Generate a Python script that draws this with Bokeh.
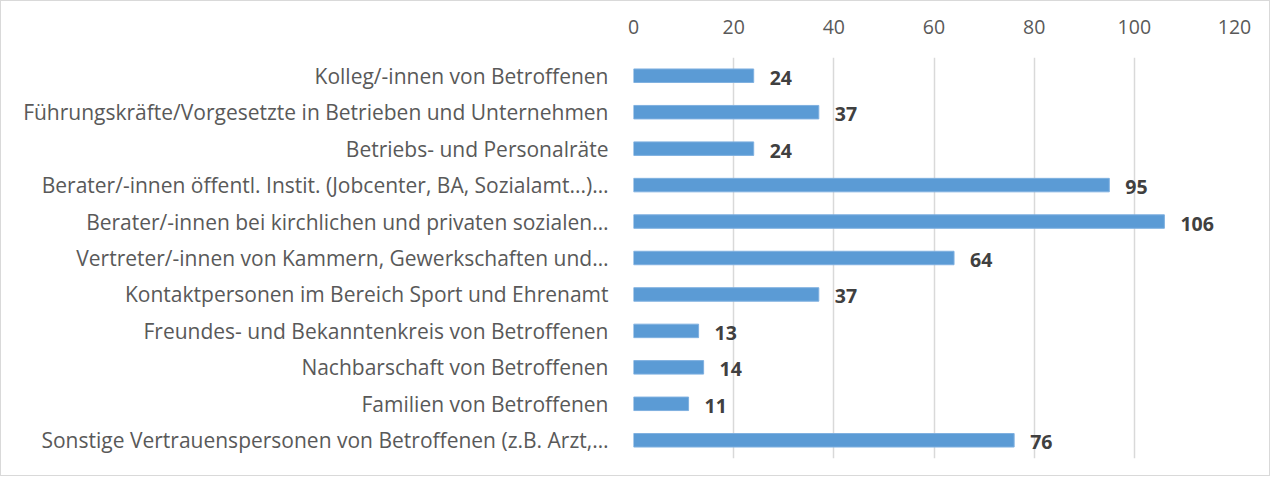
from bokeh.plotting import figure
from bokeh.models import ColumnDataSource, FactorRange, LinearAxis, Range1d, FixedTicker
from bokeh.core.properties import value
from bokeh.embed import file_html
from bokeh.resources import INLINE

categories = [
    "Kolleg/-innen von Betroffenen",
    "Führungskräfte/Vorgesetzte in Betrieben und Unternehmen",
    "Betriebs- und Personalräte",
    "Berater/-innen öffentl. Instit. (Jobcenter, BA, Sozialamt...)…",
    "Berater/-innen bei kirchlichen und privaten sozialen…",
    "Vertreter/-innen von Kammern, Gewerkschaften und…",
    "Kontaktpersonen im Bereich Sport und Ehrenamt",
    "Freundes- und Bekanntenkreis von Betroffenen",
    "Nachbarschaft von Betroffenen",
    "Familien von Betroffenen",
    "Sonstige Vertrauenspersonen von Betroffenen (z.B. Arzt,…",
]
values = [24, 37, 24, 95, 106, 64, 37, 13, 14, 11, 76]
ticks = [0, 20, 40, 60, 80, 100, 120]

FONT = "Open Sans"

src = ColumnDataSource(dict(cat=categories, val=values, lab=[str(v) for v in values]))

p = figure(
    width=1270, height=476, output_backend="svg", toolbar_location=None,
    y_range=FactorRange(factors=list(reversed(categories)), range_padding=0),
    x_range=Range1d(0, 120),
    x_axis_location=None,
    min_border_left=632, min_border_right=37, min_border_top=56, min_border_bottom=19,
)
p.styles = {"border": "1px solid #d9d9d9"}
p.outline_line_color = None
p.background_fill_color = "white"
p.border_fill_color = "white"

p.hbar(y="cat", right="val", left=0, height=0.37, source=src,
       fill_color="#5b9bd5", line_color="#7fb0e0", line_width=1)

p.text(x="val", y="cat", text="lab", source=src, x_offset=16, y_offset=2,
       text_font=value(FONT), text_font_style="bold", text_font_size="19.5px",
       text_color="#404040", text_baseline="middle", text_align="left")

top = LinearAxis(ticker=FixedTicker(ticks=ticks))
top.axis_line_color = None
top.major_tick_line_color = None
top.minor_tick_line_color = None
top.major_label_text_font = FONT
top.major_label_text_font_size = "19.5px"
top.major_label_text_color = "#595959"
top.major_label_standoff = 18
p.add_layout(top, "above")

p.xgrid.ticker = FixedTicker(ticks=ticks)
p.xgrid.grid_line_color = "#d9d9d9"
p.xgrid.grid_line_width = 1.5
p.ygrid.grid_line_color = None

ya = p.yaxis[0]
ya.axis_line_color = None
ya.major_tick_line_color = None
ya.minor_tick_line_color = None
ya.major_label_text_font = FONT
ya.major_label_text_font_size = "21px"
ya.major_label_text_color = "#595959"
ya.major_label_standoff = 19

open("out.html", "w").write(file_html(p, INLINE))
